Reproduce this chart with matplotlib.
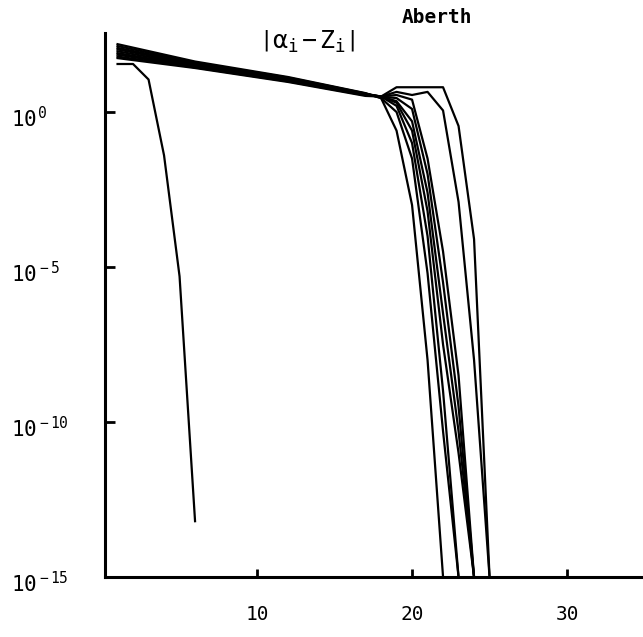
import matplotlib
matplotlib.use("Agg")
from matplotlib import pyplot as plt
from matplotlib.transforms import ScaledTranslation
import numpy as np

# iteration numbers and log10 of |alpha_i - z_i|
fast_iter = [1, 2, 3, 4, 5, 6]
fast_exp = [1.55, 1.55, 1.05, -1.4, -5.3, -13.2]

# the slow band: same iterations for every root up to 17
band_iter = [1, 6, 12, 17]
band_exp = [
    [2.19, 1.63, 1.13, 0.61],
    [2.13, 1.60, 1.11, 0.60],
    [2.07, 1.57, 1.09, 0.59],
    [2.02, 1.54, 1.07, 0.58],
    [1.96, 1.51, 1.05, 0.57],
    [1.90, 1.48, 1.03, 0.56],
    [1.85, 1.46, 1.01, 0.55],
    [1.79, 1.44, 0.99, 0.54],
    [1.74, 1.42, 0.97, 0.52],
]

# tails from iteration 18 on
tail_exp = [
    [0.45, -0.6, -3.0, -8.0, -15.0],
    [0.45, 0.0, -1.5, -5.2, -10.3, -15.0],
    [0.50, 0.2, -1.0, -4.0, -9.0, -15.0],
    [0.50, 0.3, -0.6, -3.2, -7.5, -11.0, -15.0],
    [0.50, 0.35, -0.3, -2.6, -6.5, -10.3, -15.0],
    [0.50, 0.45, 0.1, -2.0, -5.5, -9.5, -15.0],
    [0.50, 0.55, 0.4, -1.5, -4.5, -8.5, -15.0],
    [0.50, 0.65, 0.55, 0.65, 0.05, -2.9, -8.0, -15.0],
    [0.50, 0.80, 0.80, 0.80, 0.80, -0.45, -4.1, -15.0],
]

ytick_pos = [0, -5, -10, -15]
xtick_pos = [10, 20, 30]

plt.rcParams['mathtext.fontset'] = 'custom'
plt.rcParams['mathtext.rm'] = 'DejaVu Sans Mono'
plt.rcParams['mathtext.it'] = 'DejaVu Sans Mono'

fig = plt.figure(figsize=(6.43, 6.37), dpi=100)
ax = fig.add_axes([105 / 643, 1 - 577 / 637, 1 - 105 / 643, (577 - 33) / 637])

ax.semilogy(fast_iter, 10.0 ** np.array(fast_exp), color='black', lw=1.6)
for head, tail in zip(band_exp, tail_exp):
    xs = band_iter + list(range(18, 18 + len(tail)))
    ys = 10.0 ** np.array(head + tail)
    ax.semilogy(xs, ys, color='black', lw=1.6)

ax.set_xlim(0.19, 34.9)
ax.set_ylim(1e-15, 10 ** 2.55)

for side in ['top', 'right']:
    ax.spines[side].set_visible(False)
for side in ['left', 'bottom']:
    ax.spines[side].set_linewidth(2.2)

ax.set_yticks([10.0 ** k for k in ytick_pos])
ax.set_yticklabels([r'10$^{\,%d}$' % k for k in ytick_pos])
ax.yaxis.set_minor_locator(matplotlib.ticker.NullLocator())
ax.set_xticks(xtick_pos)
ax.set_xticklabels([str(v) for v in xtick_pos])
ax.tick_params(axis='y', which='major', direction='in', length=7, width=2,
               labelsize=15, pad=68)
ax.tick_params(axis='x', which='major', direction='in', length=6, width=2,
               labelsize=14, pad=20)
for lab in ax.get_yticklabels():
    lab.set_family('DejaVu Sans Mono')
    lab.set_horizontalalignment('left')
    lab.set_transform(lab.get_transform() + ScaledTranslation(0, -5 / 100, fig.dpi_scale_trans))
for lab in ax.get_xticklabels():
    lab.set_family('DejaVu Sans Mono')

fig.text(0.478, 0.935, r'$\left|\alpha_i - Z_i\right|$', fontsize=18,
         ha='center', va='center')
fig.text(0.625, 0.972, 'Aberth', family='DejaVu Sans Mono', fontsize=14,
         fontweight='bold', ha='left', va='center')

fig.savefig('out.png', dpi=100)
